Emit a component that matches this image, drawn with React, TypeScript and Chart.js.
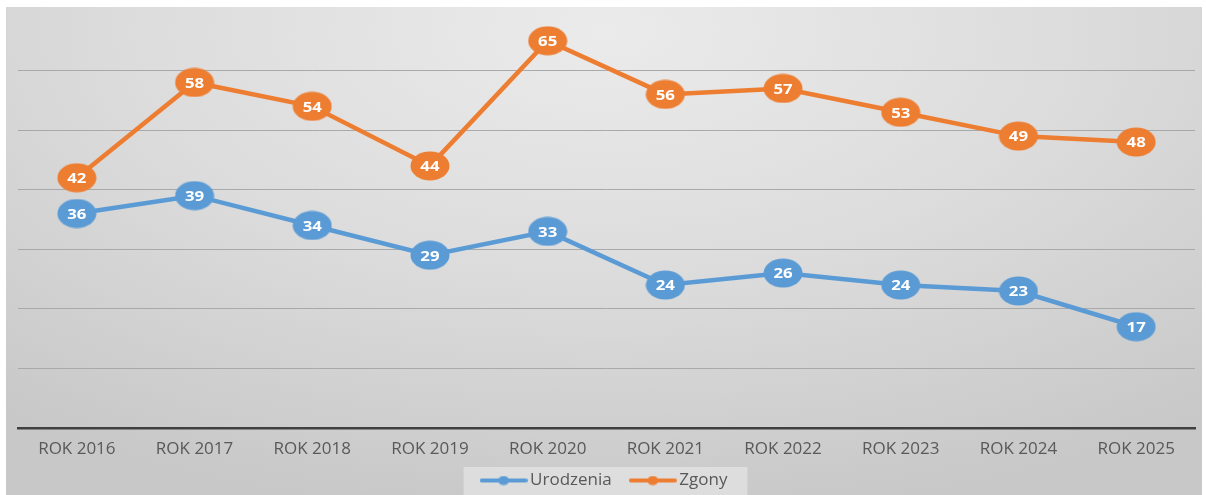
import React, { useEffect, useRef } from "react";
import { Chart, registerables } from "chart.js";

Chart.register(...registerables);

const categories = ["ROK 2016", "ROK 2017", "ROK 2018", "ROK 2019", "ROK 2020", "ROK 2021", "ROK 2022", "ROK 2023", "ROK 2024", "ROK 2025"];
const urodzenia = [36, 39, 34, 29, 33, 24, 26, 24, 23, 17];
const zgony = [42, 58, 54, 44, 65, 56, 57, 53, 49, 48];
const seriesNames = ["Urodzenia", "Zgony"];
const seriesColors = ["#5B9BD5", "#ED7D31"];
const yMax = 70;
const yStep = 10;

const FONT = "'Open Sans', 'DejaVu Sans', sans-serif";

function makeLegendMarker(color: string): HTMLCanvasElement {
  const c = document.createElement("canvas");
  c.width = 48;
  c.height = 10;
  const ctx = c.getContext("2d")!;
  ctx.strokeStyle = color;
  ctx.lineWidth = 4;
  ctx.lineCap = "round";
  ctx.beginPath();
  ctx.moveTo(2, 5);
  ctx.lineTo(46, 5);
  ctx.stroke();
  ctx.fillStyle = color;
  ctx.beginPath();
  ctx.ellipse(24, 5, 5.5, 4.5, 0, 0, Math.PI * 2);
  ctx.fill();
  return c;
}

function makeEllipseMarker(color: string): HTMLCanvasElement {
  const c = document.createElement("canvas");
  c.width = 40;
  c.height = 30;
  const ctx = c.getContext("2d")!;
  ctx.fillStyle = color;
  ctx.beginPath();
  ctx.ellipse(20, 15, 19.5, 14.5, 0, 0, Math.PI * 2);
  ctx.fill();
  return c;
}

const dataLabelPlugin = {
  id: "dataLabels",
  afterDatasetsDraw(chart: any) {
    const ctx = chart.ctx;
    chart.data.datasets.forEach((ds: any, i: number) => {
      const meta = chart.getDatasetMeta(i);
      meta.data.forEach((pt: any, j: number) => {
        ctx.save();
        ctx.translate(pt.x, pt.y + 1);
        ctx.scale(1.12, 1);
        ctx.fillStyle = "#ffffff";
        ctx.font = `bold 15px ${FONT}`;
        ctx.textAlign = "center";
        ctx.textBaseline = "middle";
        ctx.fillText(String(ds.data[j]), 0, 0);
        ctx.restore();
      });
    });
  },
};

const legendBgPlugin = {
  id: "legendBg",
  afterLayout(chart: any) {
    const lg = chart.legend;
    if (lg) {
      lg.top += 4;
      lg.bottom += 4;
    }
  },
  beforeDraw(chart: any) {
    const lg = chart.legend;
    if (!lg || !lg.legendHitBoxes || !lg.legendHitBoxes.length) return;
    const boxes = lg.legendHitBoxes;
    const minX = Math.min(...boxes.map((b: any) => b.left));
    const maxX = Math.max(...boxes.map((b: any) => b.left + b.width));
    const ctx = chart.ctx;
    ctx.save();
    ctx.fillStyle = "rgba(240,240,240,0.5)";
    ctx.fillRect(minX - 22, 467, maxX - minX + 42, 28);
    ctx.restore();
  },
};

export default function App() {
  const ref = useRef<HTMLCanvasElement | null>(null);

  useEffect(() => {
    document.body.style.margin = "0";
    const canvas = ref.current!;
    const markers = seriesColors.map(makeLegendMarker);
    const pointImgs = seriesColors.map(makeEllipseMarker);
    const chart = new Chart(canvas, {
      type: "line",
      data: {
        labels: categories,
        datasets: [urodzenia, zgony].map((d, i) => ({
          label: seriesNames[i],
          data: d,
          borderColor: seriesColors[i],
          backgroundColor: seriesColors[i],
          borderWidth: 4.5,
          tension: 0,
          pointRadius: 16,
          pointHoverRadius: 16,
          pointBorderWidth: 0,
          pointBackgroundColor: seriesColors[i],
          pointStyle: pointImgs[i] as any,
          clip: false as any,
        })),
      },
      options: {
        responsive: false,
        animation: false,
        maintainAspectRatio: false,
        events: [],
        layout: { autoPadding: false, padding: { left: 18, right: 11, top: 11, bottom: 0 } },
        scales: {
          x: {
            offset: true,
            grid: { display: false, drawTicks: false },
            border: { display: true, color: "#404040", width: 2.5 },
            ticks: { color: "#595959", font: { family: FONT, size: 17 }, padding: 11, maxRotation: 0, autoSkip: false },
            afterFit: (s: any) => { s.height = 39; },
          },
          y: {
            min: 0,
            max: yMax,
            ticks: { display: false, stepSize: yStep },
            grid: {
              drawTicks: false,
              color: (c: any) => (c.tick && (c.tick.value === 0 || c.tick.value === yMax) ? "rgba(0,0,0,0)" : "#a9a9a9"),
              lineWidth: 1,
            },
            border: { display: false },
            afterFit: (s: any) => { s.width = 0; },
          },
        },
        plugins: {
          tooltip: { enabled: false },
          legend: {
            position: "bottom",
            labels: {
              usePointStyle: true,
              pointStyleWidth: 36,
              boxHeight: 10,
              color: "#595959",
              font: { family: FONT, size: 17 },
              padding: 1,
              generateLabels: () =>
                seriesNames.map((n, i) => ({
                  text: i === 0 ? n + "     " : n,
                  pointStyle: markers[i] as any,
                  fillStyle: seriesColors[i],
                  strokeStyle: seriesColors[i],
                  lineWidth: 0,
                  hidden: false,
                  datasetIndex: i,
                  fontColor: "#595959",
                })),
            },
          },
        },
      },
      plugins: [dataLabelPlugin, legendBgPlugin],
    });
    return () => chart.destroy();
  }, []);

  return (
    <div style={{ position: "relative", width: 1206, height: 495, background: "#ffffff", overflow: "hidden" }}>
      <div
        style={{
          position: "absolute",
          left: 6,
          top: 7,
          width: 1196,
          height: 488,
          background: "radial-gradient(ellipse 80% 100% at 50% 5%, #ebebeb 0%, #dcdcdc 50%, #c8c8c8 100%)",
        }}
      />
      <canvas ref={ref} width={1206} height={495} style={{ position: "absolute", left: 0, top: 0, width: 1206, height: 495 }} />
    </div>
  );
}
